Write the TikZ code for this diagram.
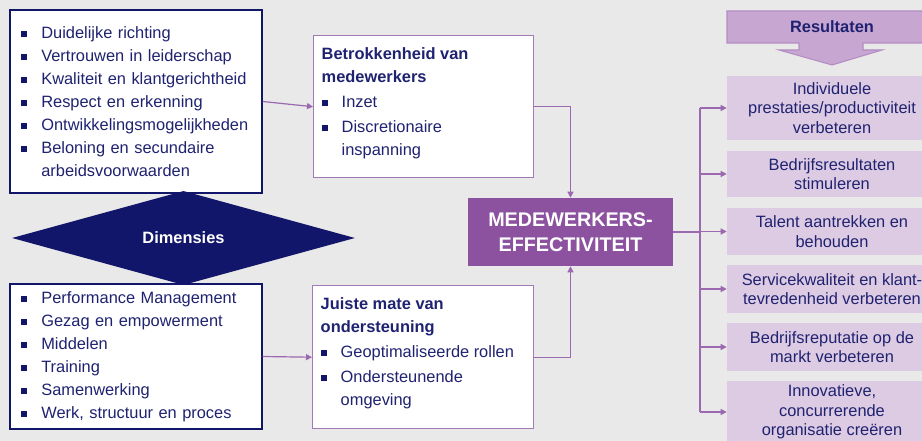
\documentclass[tikz,border=0pt]{standalone}
\usepackage{fontspec}
\setmainfont{Liberation Sans}
\usetikzlibrary{arrows.meta,positioning,shapes.geometric,calc}

\definecolor{achter}{HTML}{E8E9E8}
\definecolor{navy}{HTML}{12166A}
\definecolor{tekst}{HTML}{1F2270}
\definecolor{paars}{HTML}{8C52A0}
\definecolor{lijn}{HTML}{9C68B0}
\definecolor{kader}{HTML}{A27AB8}
\definecolor{kopvul}{HTML}{C8A6D2}
\definecolor{kopran}{HTML}{B48DC4}
\definecolor{resvul}{HTML}{DDCBE3}

\newcommand{\blok}{\makebox[15pt][l]{\raisebox{1pt}{\color{navy}\rule{4.5pt}{4.5pt}}}}
\newcommand{\inspr}{\hspace*{15pt}}

\begin{document}
\begin{tikzpicture}[x=0.75pt,y=-0.75pt,
	every node/.style={text=tekst,font=\fontsize{12.3}{17.25}\selectfont},
	lijst/.style={draw=navy,line width=1.1pt,fill=white,align=left,text width=172pt,
		inner xsep=8.5pt,inner ysep=0pt},
	midden/.style={draw=kader,line width=1.1pt,fill=white,inner sep=6pt,anchor=north west},
	resultaat/.style={fill=resvul,minimum width=157.5pt,align=center,inner sep=0pt,
		font=\fontsize{12.3}{14.6}\selectfont},
	pijl/.style={draw=lijn,line width=0.9pt,-{Triangle[length=4.5pt,width=4.5pt]}},
	verbind/.style={draw=lijn,line width=0.9pt}]

	% Canvas
	\useasboundingbox (0,0) rectangle (922,441);
	\fill[achter] (0,0) rectangle (922,441);
	\clip (0,0) rectangle (922,441);

	% The two lists of dimensions
	\node[lijst,minimum height=137.25pt] (sfeer) at (136,101.5) {%
		\blok Duidelijke richting\\
		\blok Vertrouwen in leiderschap\\
		\blok Kwaliteit en klantgerichtheid\\
		\blok Respect en erkenning\\
		\blok Ontwikkelingsmogelijkheden\\
		\blok Beloning en secundaire\\
		\inspr arbeidsvoorwaarden};
	\node[lijst,minimum height=108.75pt] (middelen) at (136,356.5) {%
		\blok Performance Management\\
		\blok Gezag en empowerment\\
		\blok Middelen\\
		\blok Training\\
		\blok Samenwerking\\
		\blok Werk, structuur en proces};

	% Dimensies
	\node[diamond,fill=navy,minimum width=257.25pt,minimum height=57pt,inner sep=0pt,
		text=white,font=\bfseries\fontsize{12.3}{15}\selectfont] (dimensies) at (183.5,238) {Dimensies};

	% The two intermediate boxes
	\node[midden] (betrok) at (313,35) {\parbox[c][94.5pt][t]{153pt}{\raggedright
		\vspace*{3pt}\textbf{Betrokkenheid van\\ medewerkers}\\[1.5pt]
		\blok Inzet\\[1.5pt]
		\blok Discretionaire\\
		\inspr inspanning}};
	\node[midden] (onderst) at (312,285) {\parbox[c][95.25pt][t]{153.75pt}{\raggedright
		\vspace*{3pt}\textbf{Juiste mate van\\ ondersteuning}\\[1.5pt]
		\blok Geoptimaliseerde rollen\\[1.5pt]
		\blok Ondersteunende\\
		\inspr omgeving}};

	% Central box
	\node[fill=paars,minimum width=153.75pt,minimum height=51pt,inner sep=0pt,align=center,
		text=white,font=\bfseries\fontsize{14.8}{19}\selectfont] (effect) at (570.5,232)
		{MEDEWERKERS-\\EFFECTIVITEIT};

	% Resultaten header arrow
	\filldraw[fill=kopvul,draw=kopran,line width=0.8pt]
		(727,11) -- (937,11) -- (937,43) -- (863,43) -- (863,50) -- (882,50) -- (832,65)
		-- (779,50) -- (799,50) -- (799,43) -- (727,43) -- cycle;
	\node[font=\bfseries\fontsize{12.3}{15}\selectfont] (kop) at (832,27) {Resultaten};

	% Results
	\node[resultaat,minimum height=48pt] (r1) at (832,108)
		{Individuele\\prestaties/productiviteit\\verbeteren};
	\node[resultaat,minimum height=34.5pt] (r2) at (832,174)
		{Bedrijfsresultaten\\stimuleren};
	\node[resultaat,minimum height=35.25pt] (r3) at (832,231.5)
		{Talent aantrekken en\\behouden};
	\node[resultaat,minimum height=36pt] (r4) at (832,289)
		{Servicekwaliteit en klant-\\tevredenheid verbeteren};
	\node[resultaat,minimum height=36pt] (r5) at (832,347)
		{Bedrijfsreputatie op de\\markt verbeteren};
	\node[resultaat,minimum height=46.5pt] (r6) at (832,412)
		{Innovatieve,\\concurrerende\\organisatie creëren};

	% Connectors
	\draw[pijl] (sfeer.east) -- (betrok.west);
	\draw[pijl] (middelen.east) -- (onderst.west);
	\draw[pijl] (betrok.east) -| (effect.north);
	\draw[pijl] (onderst.east) -| (effect.south);

	% Branch to the results
	\coordinate (tak) at (700,232);
	\draw[verbind] (effect.east) -- (tak);
	\draw[verbind] (tak |- r1.west) -- (tak |- r6.west);
	\foreach \i in {1,...,6}
		\draw[pijl] (tak |- r\i.west) -- (r\i.west);
\end{tikzpicture}
\end{document}
